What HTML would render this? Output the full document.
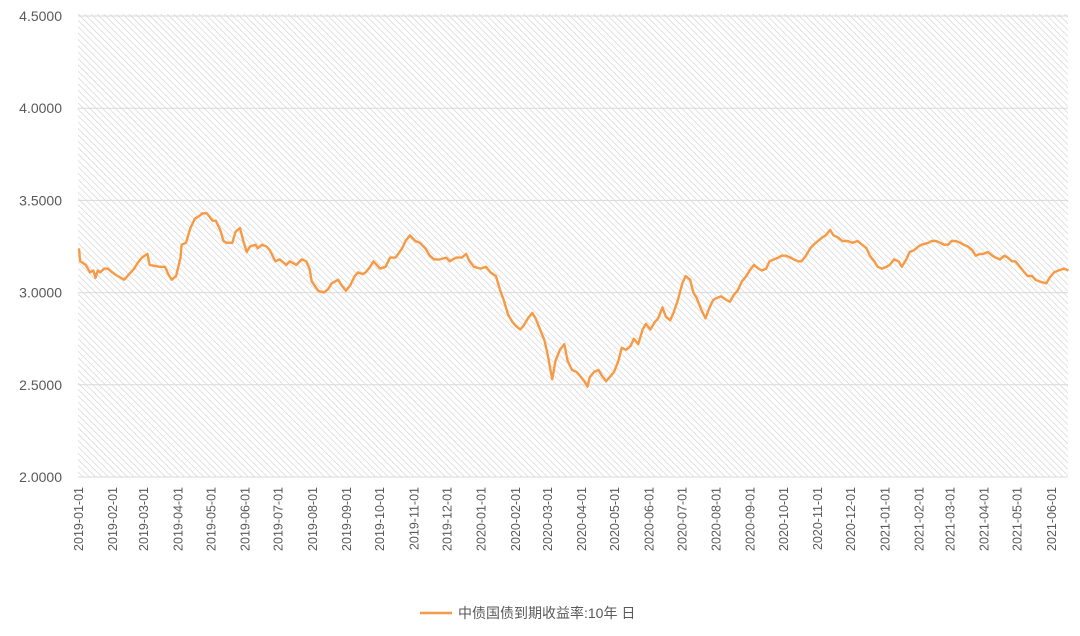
<!DOCTYPE html>
<html><head><meta charset="utf-8">
<style>
body{margin:0;background:#fff;}
svg text{font-family:"Liberation Sans","Noto Sans CJK SC",sans-serif;fill:#595959;}
</style></head>
<body>
<svg id="chart" width="1080" height="631" viewBox="0 0 1080 631" xmlns="http://www.w3.org/2000/svg">
<defs>
<pattern id="hatch" width="4.5" height="4.5" patternUnits="userSpaceOnUse" patternTransform="rotate(-45)">
<rect width="4.5" height="4.5" fill="#fff"/>
<line x1="0" y1="0" x2="0" y2="4.5" stroke="#d2d2d2" stroke-width="1.3"/>
</pattern>
</defs>
<rect x="78" y="14" width="990" height="463" fill="url(#hatch)"/>
<g id="grid"></g>
<g id="yticks"></g>
<g id="xticks"></g>
<path id="line" fill="none" stroke="#f79a46" stroke-width="2.4" stroke-linejoin="round"/>
<g>
<line x1="420" y1="613" x2="452" y2="613" stroke="#f79a46" stroke-width="2.6"/>
<text x="458" y="618" font-size="14">中债国债到期收益率:10年 日</text>
</g>
</svg>
<script>
const yTicks = [2.0, 2.5, 3.0, 3.5, 4.0, 4.5];
const monthLabels = ["2019-01-01","2019-02-01","2019-03-01","2019-04-01","2019-05-01","2019-06-01","2019-07-01","2019-08-01","2019-09-01","2019-10-01","2019-11-01","2019-12-01","2020-01-01","2020-02-01","2020-03-01","2020-04-01","2020-05-01","2020-06-01","2020-07-01","2020-08-01","2020-09-01","2020-10-01","2020-11-01","2020-12-01","2021-01-01","2021-02-01","2021-03-01","2021-04-01","2021-05-01","2021-06-01"];
// [days since 2019-01-01, yield %]
const series = [[0,3.24],[1,3.17],[6,3.15],[10,3.11],[13,3.12],[15,3.08],[17,3.12],[19,3.11],[23,3.13],[26,3.13],[30,3.11],[35,3.09],[41,3.07],[44,3.09],[50,3.13],[53,3.16],[57,3.19],[62,3.21],[64,3.15],[73,3.14],[78,3.14],[81,3.10],[84,3.07],[88,3.09],[92,3.19],[93,3.26],[97,3.27],[101,3.35],[105,3.40],[110,3.42],[112,3.43],[116,3.43],[121,3.39],[124,3.39],[128,3.34],[131,3.28],[134,3.27],[139,3.27],[142,3.33],[146,3.35],[149,3.28],[152,3.22],[155,3.25],[160,3.26],[162,3.24],[166,3.26],[170,3.25],[173,3.23],[178,3.17],[182,3.18],[188,3.15],[191,3.17],[197,3.15],[202,3.18],[206,3.17],[209,3.13],[211,3.06],[217,3.01],[222,3.00],[226,3.02],[229,3.05],[235,3.07],[238,3.04],[242,3.01],[246,3.04],[250,3.09],[253,3.11],[257,3.10],[260,3.11],[264,3.14],[267,3.17],[273,3.13],[278,3.14],[282,3.19],[287,3.19],[293,3.24],[296,3.28],[300,3.31],[305,3.28],[309,3.27],[314,3.24],[318,3.20],[322,3.18],[327,3.18],[333,3.19],[336,3.17],[342,3.19],[347,3.19],[351,3.21],[354,3.17],[358,3.14],[364,3.13],[369,3.14],[373,3.11],[378,3.09],[382,3.01],[385,2.96],[389,2.88],[393,2.84],[396,2.82],[400,2.80],[403,2.82],[407,2.86],[411,2.89],[414,2.86],[418,2.80],[422,2.74],[425,2.66],[429,2.53],[432,2.63],[436,2.69],[440,2.72],[443,2.63],[447,2.58],[451,2.57],[454,2.55],[458,2.52],[461,2.49],[463,2.54],[467,2.57],[471,2.58],[474,2.55],[478,2.52],[481,2.54],[485,2.57],[489,2.63],[492,2.70],[496,2.69],[500,2.71],[503,2.75],[507,2.72],[511,2.80],[514,2.83],[518,2.80],[522,2.84],[525,2.86],[529,2.92],[532,2.87],[536,2.85],[539,2.89],[543,2.96],[547,3.05],[550,3.09],[554,3.07],[557,3.00],[560,2.97],[564,2.91],[568,2.86],[571,2.91],[575,2.96],[578,2.97],[582,2.98],[587,2.96],[590,2.95],[594,2.99],[597,3.01],[601,3.06],[605,3.09],[608,3.12],[612,3.15],[616,3.13],[619,3.12],[623,3.13],[626,3.17],[630,3.18],[634,3.19],[637,3.20],[641,3.20],[645,3.19],[648,3.18],[652,3.17],[655,3.17],[659,3.20],[663,3.24],[666,3.26],[670,3.28],[674,3.30],[677,3.31],[681,3.34],[684,3.31],[688,3.30],[692,3.28],[697,3.28],[701,3.27],[706,3.28],[710,3.26],[714,3.24],[717,3.20],[721,3.17],[724,3.14],[728,3.13],[732,3.14],[735,3.15],[739,3.18],[743,3.17],[746,3.14],[750,3.18],[753,3.22],[757,3.23],[761,3.25],[764,3.26],[770,3.27],[773,3.28],[777,3.28],[781,3.27],[784,3.26],[788,3.26],[791,3.28],[795,3.28],[799,3.27],[802,3.26],[806,3.25],[810,3.23],[813,3.20],[817,3.21],[820,3.21],[824,3.22],[828,3.20],[831,3.19],[835,3.18],[839,3.20],[842,3.19],[846,3.17],[849,3.17],[853,3.14],[857,3.11],[860,3.09],[864,3.09],[867,3.07],[871,3.06],[877,3.05],[880,3.08],[884,3.11],[888,3.12],[893,3.13],[897,3.12]];

const NS = "http://www.w3.org/2000/svg";
const X0 = 79, PX_PER_DAY = 1.103;
const yScale = v => 477 - (v - 2.0) * 184.4;
const xScale = d => X0 + d * PX_PER_DAY;
const base = Date.UTC(2019, 0, 1);
const dayOf = s => { const p = s.split("-"); return (Date.UTC(+p[0], +p[1]-1, +p[2]) - base) / 86400000; };

const grid = document.getElementById("grid");
const yt = document.getElementById("yticks");
yTicks.forEach(v => {
  const l = document.createElementNS(NS, "line");
  
  
  l.setAttribute("x1", 78); l.setAttribute("x2", 1068);
  l.setAttribute("y1", yScale(v)); l.setAttribute("y2", yScale(v));
  l.setAttribute("stroke", "#d9d9d9"); l.setAttribute("stroke-width", "1");
  grid.appendChild(l);
  const t = document.createElementNS(NS, "text");
  
  
  t.setAttribute("x", 62); t.setAttribute("y", yScale(v) + 5);
  t.setAttribute("text-anchor", "end"); t.setAttribute("font-size", "14");
  t.textContent = v.toFixed(4);
  yt.appendChild(t);
});

const xt = document.getElementById("xticks");
monthLabels.forEach(s => {
  const x = xScale(dayOf(s)) + 4;
  const t = document.createElementNS(NS, "text");
  
  
  t.setAttribute("transform", `translate(${x},487) rotate(-90)`);
  t.setAttribute("text-anchor", "end"); t.setAttribute("font-size", "12.5");
  t.textContent = s;
  xt.appendChild(t);
});

document.getElementById("line").setAttribute("d",
  series.map((p, i) => (i ? "L" : "M") + xScale(p[0]).toFixed(1) + "," + yScale(p[1]).toFixed(1)).join(""));
</script>
</body></html>
